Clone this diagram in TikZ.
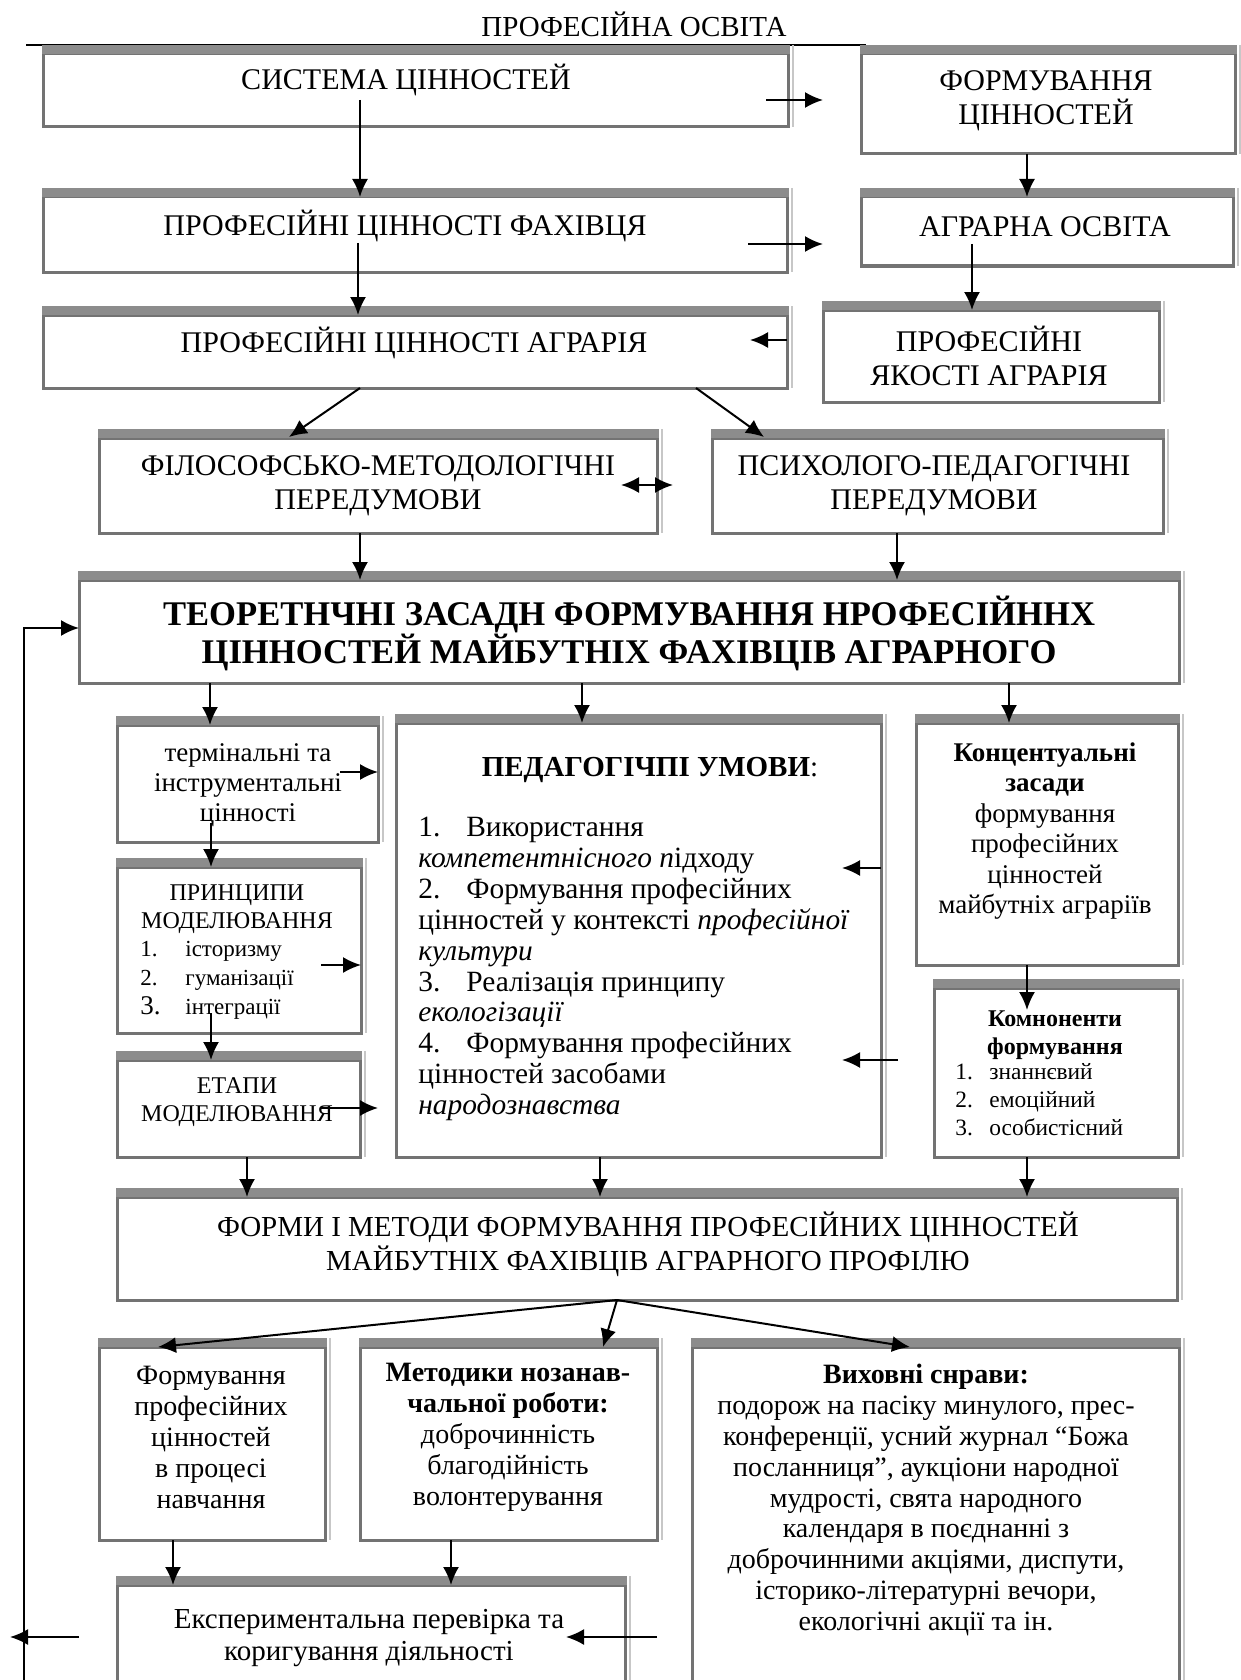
\documentclass[tikz,border=0pt]{standalone}
\usepackage{fontspec}
\setmainfont{Liberation Serif}
\usetikzlibrary{arrows.meta}
\newcommand\fz[2]{\fontsize{#1pt}{#2pt}\selectfont}
\newcommand\gb[5]{%
  \node[gbox, minimum width={(#4-#2)*0.5pt}, minimum height={(#5-#3)*0.5pt}] (#1) at ({(#2+#4)/2},{(#3+#5)/2}) {};
  \fill[band] ([xshift=-0.75pt]#1.north west) rectangle ([xshift=0.75pt,yshift=4.5pt]#1.north east);
  \draw[shadowl] ([xshift=2.5pt,yshift=4.5pt]#1.north east) -- ([xshift=2.5pt]#1.south east);
}
\tikzset{
  gbox/.style={draw=black!55, line width=1.5pt, inner sep=0pt, outer sep=0pt},
  band/.style={fill=black!45},
  shadowl/.style={draw=black!22, line width=1pt},
  arr/.style={-{Latex[length=9pt,width=8pt]}, line width=1pt},
  arrtwo/.style={{Latex[length=9pt,width=8pt]}-{Latex[length=9pt,width=8pt]}, line width=1pt},
  txt/.style={inner sep=0pt, align=center},
  ltxt/.style={inner sep=0pt, align=left, anchor=west},
}
\begin{document}
\begin{tikzpicture}[x=0.5pt,y=-0.5pt]
\useasboundingbox (0,0) rectangle (1241,1680);
\fill[white] (0,0) rectangle (1241,1680);

% title and rule
\node[txt, font=\fz{14.5}{16}] (title) at (634,24) {ПРОФЕСІЙНА ОСВІТА};
\coordinate (ruleL) at (26,45);
\coordinate (ruleR) at (866,45);
\draw[line width=1pt] (ruleL) -- (ruleR);

% boxes
\gb{sys}{43}{54}{788}{127}
\gb{form}{861}{54}{1235}{154}
\gb{fah}{43}{197}{787}{272}
\gb{agr}{861}{197}{1233}{266}
\gb{pagr}{43}{315}{787}{388}
\gb{yak}{823}{310}{1159}{402}
\gb{filos}{99}{438}{657}{533}
\gb{psych}{712}{438}{1163}{533}
\gb{theo}{79}{580}{1179}{683}
\gb{term}{117}{725}{378}{842}
\gb{princ}{117}{867}{361}{1033}
\gb{etap}{117}{1060}{360}{1157}
\gb{ped}{396}{723}{881}{1157}
\gb{conc}{916}{723}{1178}{965}
\gb{comp}{934}{988}{1178}{1157}
\gb{forms}{117}{1197}{1177}{1300}
\gb{boxA}{99}{1347}{325}{1540}
\gb{boxB}{360}{1347}{657}{1540}
\gb{boxC}{692}{1347}{1179}{1730}
\gb{boxD}{117}{1585}{625}{1730}

% texts
\node[txt, font=\fz{15}{17}] (sysT) at (406,80) {СИСТЕМА ЦІННОСТЕЙ};
\node[txt, font=\fz{15}{17}] (formT) at (1046,101) {ФОРМУВАННЯ\\ЦІННОСТЕЙ};
\node[txt, font=\fz{15}{17}] (fahT) at (405,226) {ПРОФЕСІЙНІ ЦІННОСТІ ФАХІВЦЯ};
\node[txt, font=\fz{15}{17}] (agrT) at (1045,227) {АГРАРНА ОСВІТА};
\node[txt, font=\fz{15}{17}] (pagrT) at (414,343) {ПРОФЕСІЙНІ ЦІННОСТІ АГРАРІЯ};
\node[txt, font=\fz{15}{17}] (yakT) at (989,356) {ПРОФЕСІЙНІ\\ЯКОСТІ АГРАРІЯ};
\node[txt, font=\fz{15}{17}] (filosT) at (378,486) {ФІЛОСОФСЬКО-МЕТОДОЛОГІЧНІ\\ПЕРЕДУМОВИ};
\node[txt, font=\fz{15}{17}] (psychT) at (934,486) {ПСИХОЛОГО-ПЕДАГОГІЧНІ\\ПЕРЕДУМОВИ};
\node[txt, font=\fz{17.3}{19}\bfseries] (theoT) at (629,633) {ТЕОРЕТНЧНІ ЗАСАДН ФОРМУВАННЯ НРОФЕСІЙННХ\\ЦІННОСТЕЙ МАЙБУТНІХ ФАХІВЦІВ АГРАРНОГО};
\node[txt, font=\fz{13.5}{15}] (termT) at (248,785) {термінальні та\\інструментальні\\цінності};
\node[txt, font=\fz{12}{14}] (princT) at (237,909) {ПРИНЦИПИ\\МОДЕЛЮВАННЯ};
\node[ltxt, font=\fz{11.5}{14.5}] (princL) at (140,980) {\makebox[22.5pt][l]{1.}історизму\\\makebox[22.5pt][l]{2.}гуманізації\\\makebox[22.5pt][l]{\fz{13.5}{14.5}3.}інтеграції};
\node[txt, font=\fz{12}{14}] (etapT) at (237,1102) {ЕТАПИ\\МОДЕЛЮВАННЯ};
\node[txt, font=\fz{14.5}{16}] (pedTitle) at (650,770) {\textbf{ПЕДАГОГІЧПІ УМОВИ}:};
\node[ltxt, font=\fz{14.7}{15.45}] (pedL) at (418,969) {%
\makebox[24pt][l]{1.}Використання\\
\textit{компетентнісного п}ідходу\\
\makebox[24pt][l]{2.}Формування професійних\\
цінностей у контексті \textit{професійної}\\
\textit{культури}\\
\makebox[24pt][l]{3.}Реалізація принципу\\
\textit{екологізації}\\
\makebox[24pt][l]{4.}Формування професійних\\
цінностей засобами\\
\textit{народознавства}};
\node[txt, font=\fz{13.5}{15.25}] (concT) at (1045,831) {\textbf{Концентуальні}\\\textbf{засади}\\формування\\професійних\\цінностей\\майбутніх аграріїв};
\node[txt, font=\fz{12}{14}\bfseries] (compT) at (1055,1035) {Комноненти\\формування};
\node[ltxt, font=\fz{11.7}{14}] (compL) at (955,1100) {\makebox[17pt][l]{1.}знаннєвий\\\makebox[17pt][l]{2.}емоційний\\\makebox[17pt][l]{3.}особистісний};
\node[txt, font=\fz{14.5}{17}] (formsT) at (648,1244) {ФОРМИ І МЕТОДИ ФОРМУВАННЯ ПРОФЕСІЙНИХ ЦІННОСТЕЙ\\МАЙБУТНІХ ФАХІВЦІВ АГРАРНОГО ПРОФІЛЮ};
\node[txt, font=\fz{14}{15.5}] (AT) at (211,1437) {Формування\\професійних\\цінностей\\в процесі\\навчання};
\node[txt, font=\fz{14}{15.5}] (BT) at (508,1437) {\textbf{Методики нозанав-}\\\textbf{чальної роботи:}\\доброчинність\\благодійність\\волонтерування};
\node[txt, font=\fz{14}{15.4}] (CT) at (926,1500) {\textbf{Виховні снрави:}\\подорож на пасіку минулого, прес-\\конференції, усний журнал “Божа\\посланниця”, аукціони народної\\мудрості, свята народного\\календаря в поєднанні з\\доброчинними акціями, диспути,\\історико-літературні вечори,\\екологічні акції та ін.};
\node[txt, font=\fz{14.5}{16}] (DT) at (369,1638) {Експериментальна перевірка та\\коригування діяльності};

% arrows
\coordinate (a1s) at (766,100); \coordinate (a1e) at (823,100);
\draw[arr] (a1s) -- (a1e);
\coordinate (a2) at (360,100);
\draw[arr] (a2) -- (a2 |- fah.north);
\coordinate (a3) at (1027,154);
\draw[arr] (a3 |- form.south) -- (a3 |- agr.north);
\coordinate (a4s) at (748,244); \coordinate (a4e) at (823,244);
\draw[arr] (a4s) -- (a4e);
\coordinate (a5) at (358,243);
\draw[arr] (a5) -- (a5 |- pagr.north);
\coordinate (a6) at (972,244);
\draw[arr] (a6) -- (a6 |- yak.north);
\coordinate (a7) at (750,340);
\draw[arr] (a7 -| pagr.east) -- (a7);
\coordinate (a8s) at (360,388); \coordinate (a8e) at (289,437);
\draw[arr] (a8s) -- (a8e);
\coordinate (a9s) at (696,388); \coordinate (a9e) at (764,437);
\draw[arr] (a9s) -- (a9e);
\coordinate (a10s) at (621,485); \coordinate (a10e) at (673,485);
\draw[arrtwo] (a10s) -- (a10e);
\coordinate (a11) at (360,500);
\draw[arr] (a11 |- filos.south) -- (a11 |- theo.north);
\coordinate (a12) at (897,500);
\draw[arr] (a12 |- psych.south) -- (a12 |- theo.north);
% feedback loop
\coordinate (fbB) at (24,1685); \coordinate (fbT) at (24,628);
\draw[arr] (fbB) -- (fbT) -- (fbT -| theo.west);
\coordinate (a14) at (210,700);
\draw[arr] (a14 |- theo.south) -- (a14 |- term.north);
\coordinate (a15) at (582,700);
\draw[arr] (a15 |- theo.south) -- (a15 |- ped.north);
\coordinate (a16) at (1009,700);
\draw[arr] (a16 |- theo.south) -- (a16 |- conc.north);
\coordinate (a17) at (340,772);
\draw[arr] (a17) -- (a17 -| term.east);
\coordinate (a18) at (211,823);
\draw[arr] (a18) -- (a18 |- princ.north);
\coordinate (a19) at (321,965);
\draw[arr] (a19) -- (a19 -| princ.east);
\coordinate (a20) at (211,1013);
\draw[arr] (a20) -- (a20 |- etap.north);
\coordinate (a21s) at (321,1108); \coordinate (a21e) at (378,1108);
\draw[arr] (a21s) -- (a21e);
\coordinate (a22) at (842,868);
\draw[arr] (a22 -| ped.east) -- (a22);
\coordinate (a23s) at (898,1060); \coordinate (a23e) at (842,1060);
\draw[arr] (a23s) -- (a23e);
\coordinate (a24) at (1027,1010);
\draw[arr] (a24 |- conc.south) -- (a24);
\coordinate (a25) at (247,1180);
\draw[arr] (a25 |- etap.south) -- (a25 |- forms.north);
\coordinate (a26) at (600,1180);
\draw[arr] (a26 |- ped.south) -- (a26 |- forms.north);
\coordinate (a27) at (1027,1180);
\draw[arr] (a27 |- comp.south) -- (a27 |- forms.north);
% fan
\coordinate (fan) at (617,1300);
\coordinate (f1) at (158,1347); \coordinate (f2) at (603,1347); \coordinate (f3) at (910,1347);
\draw[arr] (fan) -- (f1);
\draw[arr] (fan) -- (f2);
\draw[arr] (fan) -- (f3);
\coordinate (a31) at (173,1560);
\draw[arr] (a31 |- boxA.south) -- (a31 |- boxD.north);
\coordinate (a32) at (451,1560);
\draw[arr] (a32 |- boxB.south) -- (a32 |- boxD.north);
\coordinate (a33s) at (657,1637); \coordinate (a33e) at (566,1637);
\draw[arr] (a33s) -- (a33e);
\coordinate (a34s) at (79,1637); \coordinate (a34e) at (10,1637);
\draw[arr] (a34s) -- (a34e);
\end{tikzpicture}
\end{document}
